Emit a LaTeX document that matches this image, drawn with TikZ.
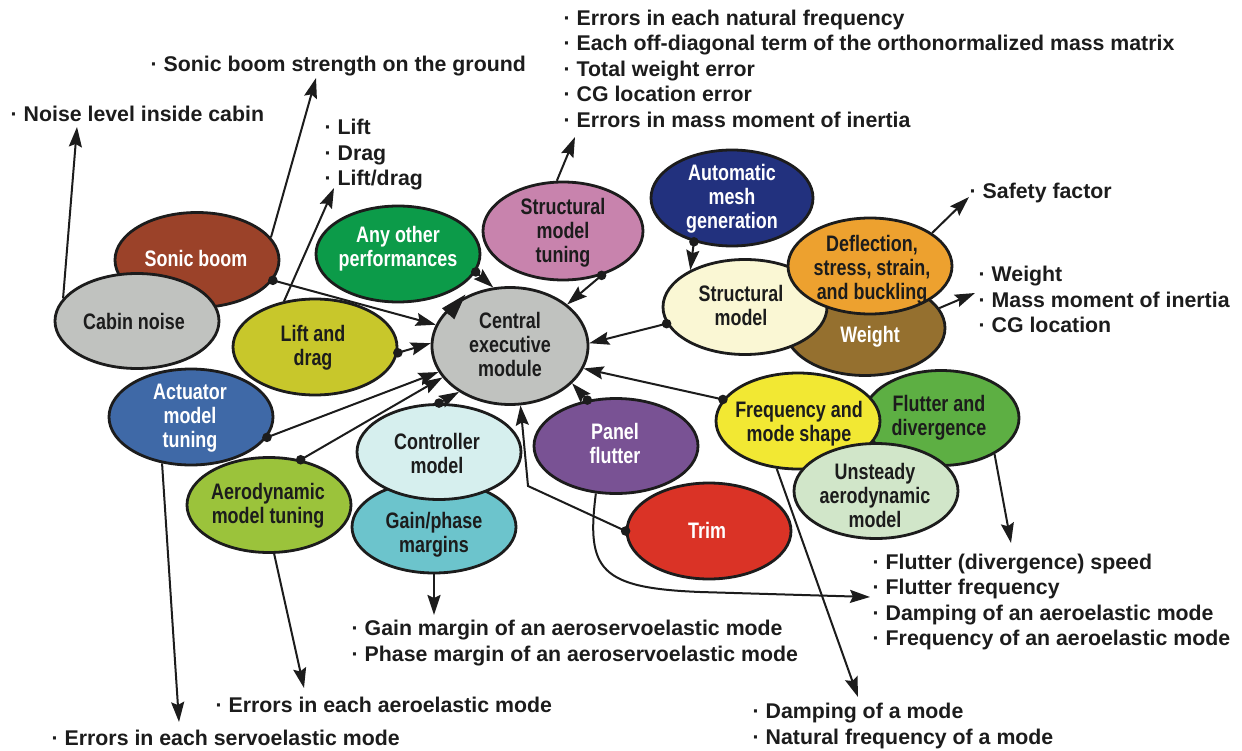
\documentclass[tikz,border=0pt]{standalone}
\usepackage{fontspec}
\setmainfont{Liberation Sans}
\newfontfamily\condfont[FakeStretch=0.8]{Liberation Sans}
\usetikzlibrary{shapes.geometric,arrows.meta}

\definecolor{csonic}{HTML}{9B4229}
\definecolor{ccabin}{HTML}{C0C2BF}
\definecolor{cany}{HTML}{0C9B49}
\definecolor{clift}{HTML}{C8C72B}
\definecolor{ccen}{HTML}{C0C2BF}
\definecolor{csmt}{HTML}{C883AD}
\definecolor{camg}{HTML}{22317E}
\definecolor{cweight}{HTML}{95702F}
\definecolor{csm}{HTML}{FAF7D4}
\definecolor{cdssb}{HTML}{EDA12F}
\definecolor{cflut}{HTML}{5DAF43}
\definecolor{cfms}{HTML}{F2E833}
\definecolor{cuam}{HTML}{D1E6C9}
\definecolor{ctrim}{HTML}{DA3326}
\definecolor{cpanel}{HTML}{795294}
\definecolor{cgpm}{HTML}{6CC4CC}
\definecolor{cctrl}{HTML}{D6EFEE}
\definecolor{caero}{HTML}{9BC33B}
\definecolor{cact}{HTML}{3F69A7}
\definecolor{ink}{HTML}{1C1C1C}

\begin{document}
\begin{tikzpicture}[x=1pt,y=-1pt,
  blob/.style={ellipse, draw=ink, line width=2.8pt, inner sep=0pt,
    minimum width=164pt, minimum height=95pt},
  lbl/.style={font=\condfont\bfseries\fontsize{22.4}{24}\selectfont, align=center,
    text=ink, inner sep=0pt, yshift=-3pt,
    execute at begin node=\strut, execute at end node=\strut},
  wlbl/.style={lbl, text=white},
  lst/.style={font=\bfseries\fontsize{21.3}{25.5}\selectfont, align=left, anchor=west,
    inner sep=0pt, text=ink, yshift=-3.5pt,
    execute at begin node=\strut, execute at end node=\strut},
  con/.style={line width=2pt, draw=ink},
  arr/.style={con, -{Stealth[length=20pt,width=13pt,inset=3pt]}},
  bigarr/.style={con, shorten >=-5pt, -{Triangle[length=26pt,width=16pt]}},
]
\fill[white] (0,0) rectangle (1242,751);
\useasboundingbox (0,0) rectangle (1242,751);

% ---------- modules ----------
\node[blob, fill=csonic] (sonic) at (197,260) {};
\node[wlbl] (sonic-t) at (196,259) {Sonic boom};
\node[blob, fill=ccabin] (cabin) at (137,321) {};
\node[lbl] (cabin-t) at (134,322) {Cabin noise};
\node[blob, fill=cany, minimum height=96pt] (any) at (398,254) {};
\node[wlbl] (any-t) at (398,247) {Any other\\performances};
\node[blob, fill=clift, minimum height=96pt] (lift) at (315,347) {};
\node[lbl] (lift-t) at (313,346) {Lift and\\drag};
\node[blob, fill=ccen, minimum width=156pt, minimum height=117pt] (cen) at (510,346) {};
\node[lbl] (cen-t) at (510,345) {Central\\executive\\module};
\node[blob, fill=csmt, minimum width=160pt, minimum height=98pt] (smt) at (563,231) {};
\node[lbl] (smt-t) at (563,231) {Structural\\model\\tuning};
\node[blob, fill=camg, minimum width=162pt, minimum height=96pt] (amg) at (732,198) {};
\node[wlbl] (amg-t) at (732,197) {Automatic\\mesh\\generation};
\node[blob, fill=cweight, minimum width=160pt] (weight) at (865,328) {};
\node[wlbl] (weight-t) at (870,335) {Weight};
\node[blob, fill=csm] (sm) at (745,307) {};
\node[lbl] (sm-t) at (741,306) {Structural\\model};
\node[blob, fill=cdssb, minimum height=96pt] (dssb) at (870,266) {};
\node[lbl] (dssb-t) at (872,268) {Deflection,\\stress, strain,\\and buckling};
\node[blob, fill=cflut, minimum width=156pt] (flut) at (941,418) {};
\node[lbl] (flut-t) at (939,416) {Flutter and\\divergence};
\node[blob, fill=cfms, minimum height=96pt] (fms) at (798,421) {};
\node[lbl] (fms-t) at (799,422) {Frequency and\\mode shape};
\node[blob, fill=cuam] (uam) at (876,491) {};
\node[lbl] (uam-t) at (875,496) {Unsteady\\aerodynamic\\model};
\node[blob, fill=ctrim, minimum height=96pt] (trim) at (709,531) {};
\node[wlbl] (trim-t) at (707,531) {Trim};
\node[blob, fill=cpanel] (panel) at (616,446) {};
\node[wlbl] (panel-t) at (615,444) {Panel\\flutter};
\node[blob, fill=cgpm, minimum height=92pt] (gpm) at (434,527) {};
\node[lbl] (gpm-t) at (434,533) {Gain/phase\\margins};
\node[blob, fill=cctrl] (ctrl) at (439,452) {};
\node[lbl] (ctrl-t) at (437,454) {Controller\\model};
\node[blob, fill=caero] (aero) at (269,505) {};
\node[lbl] (aero-t) at (268,504) {Aerodynamic\\model tuning};
\node[blob, fill=cact, minimum height=96pt] (act) at (191,417) {};
\node[wlbl] (act-t) at (190,416) {Actuator\\model\\tuning};

% ---------- result lists ----------
\node[lst] (l-noise) at (10.5,113) {· Noise level inside cabin};
\node[lst] (l-boom) at (150.5,63) {· Sonic boom strength on the ground};
\node[lst] (l-lift) at (324.5,153) {· Lift\\· Drag\\· Lift/drag};
\node[lst] (l-smt) at (563.5,69) {· Errors in each natural frequency\\
  · Each off-diagonal term of the orthonormalized mass matrix\\
  · Total weight error\\· CG location error\\· Errors in mass moment of inertia};
\node[lst] (l-safe) at (969.5,190) {· Safety factor};
\node[lst] (l-wt) at (978.5,300) {· Weight\\· Mass moment of inertia\\· CG location};
\node[lst] (l-flut) at (872.5,600) {· Flutter (divergence) speed\\· Flutter frequency\\
  · Damping of an aeroelastic mode\\· Frequency of an aeroelastic mode};
\node[lst] (l-mode) at (752.5,724) {· Damping of a mode\\· Natural frequency of a mode};
\node[lst] (l-gpm) at (351.5,641) {· Gain margin of an aeroservoelastic mode\\
  · Phase margin of an aeroservoelastic mode};
\node[lst] (l-aero) at (215.5,704) {· Errors in each aeroelastic mode};
\node[lst] (l-act) at (51.5,737) {· Errors in each servoelastic mode};

% ---------- free ends of connectors ----------
\coordinate (e-noise) at (77,127);
\coordinate (e-boom) at (316,78);
\coordinate (e-lift) at (334,188);
\coordinate (e-smt) at (575,137);
\coordinate (e-safe) at (969,197);
\coordinate (e-wt) at (975,293);
\coordinate (e-flut) at (1011,543);
\coordinate (e-mode) at (858,697);
\coordinate (e-pf) at (870,597);
\coordinate (e-gpm) at (434,615);
\coordinate (e-aero) at (304,688);
\coordinate (e-act) at (179,722);
\coordinate (trim-bend) at (528,486);
\coordinate (big-tail) at (448,314);

% ---------- data flowing into the executive ----------
\draw[arr] (sonic.-15) -- (cen.164);
\draw[arr] (lift.-4) -- (cen.178);
\draw[arr] (any.-13) -- (cen.106);
\draw[arr] (smt.-49) -- (cen.36);
\draw[arr] (amg.-131) -- (sm.146);
\draw[arr] (sm.192) -- (cen.2);
\draw[arr] (fms.164) -- (cen.-17);
\draw[arr] (panel.122) -- (cen.-31);
\draw[arr] (trim.180) -- (trim-bend) -- (cen.-80);
\draw[arr] (act.-15) -- (cen.200);
\draw[arr] (aero.55) -- (cen.205);
\draw[arr] (ctrl.90) -- (cen.222);
\draw[bigarr] (big-tail) -- (cen.135);

\foreach \p in {sonic.-15, lift.-4, any.-13, smt.-49, amg.-131, sm.192,
                fms.164, panel.122, trim.180, act.-15, aero.55, ctrl.90}
  \fill[ink] (\p) circle (4.8pt);

% ---------- outputs ----------
\draw[arr] (cabin.163) -- (e-noise);
\draw[arr] (sonic.17) -- (e-boom);
\draw[arr] (lift.124) -- (e-lift);
\draw[arr] (smt.97) -- (e-smt);
\draw[arr] (dssb.28) -- (e-safe);
\draw[arr] (weight.15) -- (e-wt);
\draw[arr] (flut.-34) -- (e-flut);
\draw[arr] (fms.-114) -- (e-mode);
\draw[arr] (panel.-113) .. controls (586,570) and (600,588) .. (700,592) -- (e-pf);
\draw[arr] (gpm.-90) -- (e-gpm);
\draw[arr] (aero.-84) -- (e-aero);
\draw[arr] (act.-122) -- (e-act);
\end{tikzpicture}
\end{document}
